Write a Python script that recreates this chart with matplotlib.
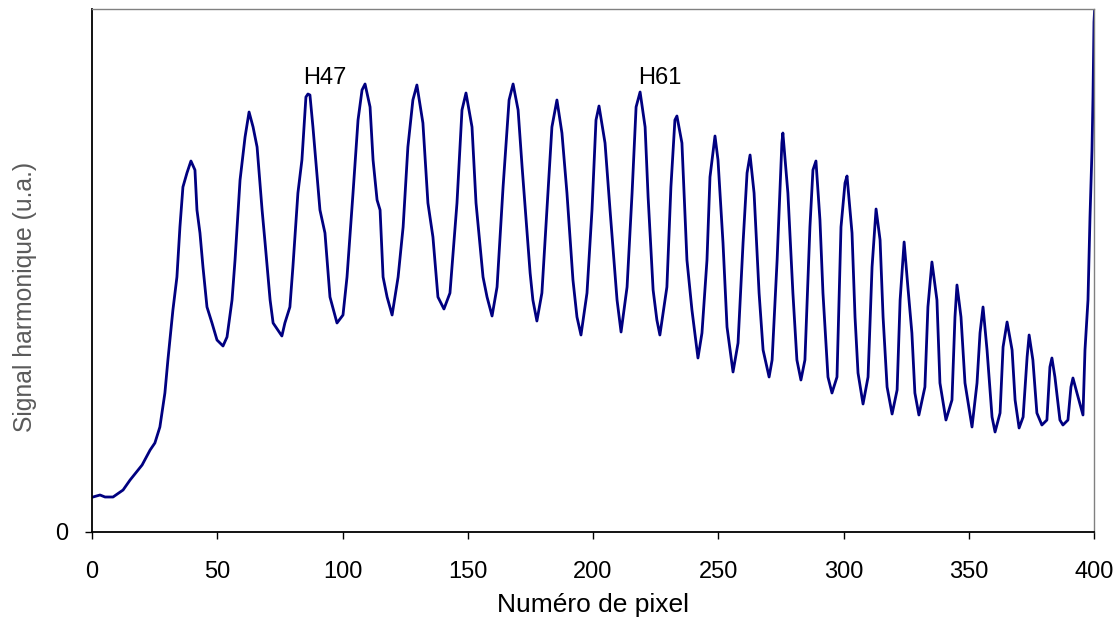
import matplotlib
matplotlib.use("Agg")
import matplotlib.pyplot as plt

plt.rcParams['font.family'] = ['Liberation Sans', 'DejaVu Sans']

# pixel number (x) and harmonic signal in arbitrary units (y)
pixel = [0.4, 3.2, 5.2, 8.4, 12.4, 15.2, 20.0, 23.2, 25.1, 27.1, 29.1, 30.3, 32.3, 33.9,
         35.1, 36.3, 37.9, 39.5, 41.1, 41.9, 43.1, 44.3, 45.9, 47.9, 49.9, 52.3, 53.9,
         55.9, 57.1, 59.1, 61.1, 62.7, 64.3, 65.9, 67.9, 69.1, 71.1, 72.3, 75.8, 77.0,
         79.0, 80.2, 82.2, 83.8, 85.4, 86.2, 87.0, 88.2, 91.0, 93.0, 95.0, 97.8, 100.2,
         101.8, 104.2, 106.2, 107.8, 109.0, 111.0, 112.2, 113.8, 115.0, 116.2, 117.8,
         119.8, 122.2, 124.2, 126.1, 128.1, 129.7, 132.1, 134.1, 136.1, 138.1, 140.5,
         142.9, 145.7, 147.7, 149.3, 151.7, 153.3, 156.1, 157.7, 159.7, 161.7, 164.1,
         166.5, 168.1, 170.1, 171.7, 174.9, 176.0, 177.6, 179.6, 182.0, 183.6, 185.6,
         187.6, 189.6, 192.0, 193.6, 195.2, 197.6, 199.6, 201.2, 202.4, 204.8, 206.8,
         209.6, 211.2, 213.6, 215.6, 217.2, 218.8, 220.8, 222.0, 224.0, 225.5, 226.7,
         229.5, 231.1, 232.7, 233.5, 235.5, 237.5, 239.5, 241.9, 243.5, 245.5, 246.7,
         248.7, 249.9, 251.9, 253.5, 255.9, 257.9, 259.9, 261.5, 262.7, 264.3, 266.3,
         267.9, 270.3, 271.5, 273.5, 275.4, 275.8, 277.8, 279.8, 281.4, 283.0, 284.6,
         286.6, 287.8, 289.0, 290.6, 291.8, 293.8, 295.4, 297.4, 299.0, 300.6, 301.4,
         303.4, 304.6, 305.8, 307.8, 309.8, 311.4, 313.0, 314.6, 315.8, 317.4, 319.4,
         321.4, 322.6, 324.2, 325.7, 327.3, 328.5, 330.1, 332.5, 333.7, 335.3, 337.3,
         338.5, 340.9, 343.3, 344.5, 345.3, 346.9, 348.5, 351.3, 353.3, 354.5, 355.7,
         357.3, 359.3, 360.5, 362.5, 363.7, 365.3, 367.3, 368.5, 370.1, 371.7, 373.3,
         374.1, 375.6, 377.2, 379.2, 381.2, 382.4, 383.2, 384.4, 386.4, 387.6, 389.6,
         390.8, 391.6, 393.2, 395.6, 396.4, 397.6, 398.4, 399.2, 399.6, 400.0, 400.4]
signal = [35, 37, 35, 35, 42, 52, 67, 82, 89, 105, 139, 172, 222, 255,
          305, 345, 359, 371, 362, 322, 299, 265, 225, 209, 192, 186, 195,
          232, 272, 352, 395, 420, 405, 385, 322, 289, 232, 209, 196, 209,
          225, 265, 339, 372, 435, 438, 437, 405, 322, 299, 235, 209, 217,
          255, 339, 412, 442, 448, 425, 372, 332, 322, 255, 235,
          217, 255, 305, 385, 432, 447, 409, 329, 295, 235, 223,
          239, 329, 422, 439, 405, 329, 255, 235, 216, 245, 345,
          432, 448, 422, 365, 259, 232, 211, 239, 339, 405, 432,
          399, 339, 252, 215, 197, 239, 322, 412, 426, 389, 322,
          232, 200, 245, 339, 425, 440, 405, 335, 242, 212, 197,
          245, 345, 412, 416, 389, 272, 222, 174, 199, 272, 355,
          396, 372, 289, 205, 160, 189, 289, 359, 377, 339, 239,
          182, 155, 172, 272, 389, 399, 339, 239, 172, 152, 172,
          305, 362, 371, 312, 239, 155, 139, 155, 305, 349, 356,
          299, 215, 159, 128, 155, 265, 323, 292, 215, 145, 118,
          142, 232, 290, 245, 199, 139, 117, 145, 225, 270, 232,
          149, 112, 132, 215, 247, 215, 149, 105, 149, 199, 225,
          182, 115, 100, 119, 185, 210, 182, 132, 104, 115, 175,
          197, 172, 119, 107, 112, 165, 174, 155, 112, 107, 112,
          145, 154, 139, 117, 182, 232, 315, 382, 435, 510, 530]

# peak labels
labels = ["H47", "H61"]
label_x = [93.0, 226.7]
label_y = [454, 454]

fig = plt.figure(figsize=(11.15, 6.25), dpi=100)
ax = fig.add_axes([92 / 1115, 1 - 532 / 625, 1002 / 1115, 523 / 625])

ax.plot(pixel, signal, color='#000080', lw=2.0, solid_joinstyle='round')

for t, x, y in zip(labels, label_x, label_y):
    ax.text(x, y, t, ha='center', va='center', fontsize=17, color='black')

ax.set_xlim(0, 400)
ax.set_ylim(0, 523)
ax.set_xticks(range(0, 401, 50))
ax.set_yticks([0])

ax.tick_params(axis='x', direction='out', length=5, width=1, pad=16,
               labelsize=17, colors='black')
ax.tick_params(axis='y', direction='out', length=5, width=1, pad=12,
               labelsize=17, colors='black')

ax.set_xlabel("Numéro de pixel", fontsize=19, labelpad=7)
ax.set_ylabel("Signal harmonique (u.a.)", fontsize=17.8, color='#5a5a5a')
ax.yaxis.set_label_coords(-0.055, 0.45)

for s in ['left', 'bottom']:
    ax.spines[s].set_color('black')
    ax.spines[s].set_linewidth(1.3)
for s in ['top', 'right']:
    ax.spines[s].set_color('#808080')
    ax.spines[s].set_linewidth(1.0)

fig.savefig("out.png", dpi=100)
